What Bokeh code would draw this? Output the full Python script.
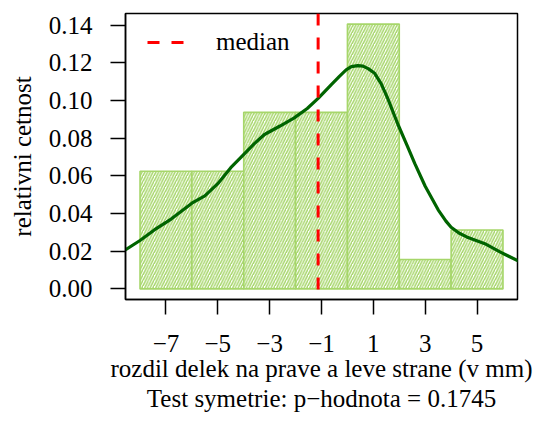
from bokeh.plotting import figure
from bokeh.models import FixedTicker, Range1d, Legend, LegendItem, Title
from bokeh.embed import file_html
from bokeh.resources import INLINE

# Histogram of differences (relative frequency per unit width)
bin_left = [-8, -6, -4, -2, 0, 2, 4]
bin_right = [-6, -4, -2, 0, 2, 4, 6]
rel_freq = [0.0625, 0.0625, 0.09375, 0.09375, 0.140625, 0.015625, 0.03125]

# Kernel density estimate of the same differences
dens_x = [-8.6, -8.0, -7.45, -6.8, -6.0, -5.5, -5.0, -4.5, -4.1, -3.6, -3.2,
          -2.6, -2.05, -1.55, -1.12, -0.63, -0.3, -0.05, 0.15, 0.4, 0.6, 0.8,
          1.05, 1.3, 1.55, 1.95, 2.3, 2.6, 3.0, 3.5, 3.8, 4.0, 4.3, 4.6, 5.3,
          5.9, 6.6]
dens_y = [0.0204, 0.0257, 0.0313, 0.0371, 0.0455, 0.0494, 0.0559, 0.0644,
          0.0700, 0.0770, 0.0820, 0.0865, 0.0908, 0.0958, 0.1013, 0.1084,
          0.1130, 0.1163, 0.1180, 0.1186, 0.1183, 0.1170, 0.1145, 0.1090,
          0.1013, 0.0873, 0.0762, 0.0665, 0.0545, 0.0420, 0.0360, 0.0327,
          0.0297, 0.0276, 0.0240, 0.0195, 0.0148]

median_value = -1.13

x_ticks = [-7, -5, -3, -1, 1, 3, 5]
x_tick_labels = ["\u22127", "\u22125", "\u22123", "\u22121", "1", "3", "5"]
y_ticks = [0.0, 0.02, 0.04, 0.06, 0.08, 0.10, 0.12, 0.14]
y_tick_labels = ["0.00", "0.02", "0.04", "0.06", "0.08", "0.10", "0.12", "0.14"]

FONT = "Liberation Serif"
FS = "25px"
BAR_GREEN = "#a6d66a"

x_lo, x_hi = -8.56, 6.56
y_lo, y_hi = -0.005625, 0.14625

p = figure(width=535, height=421, output_backend="svg", toolbar_location=None,
           x_range=Range1d(x_lo, x_hi), y_range=Range1d(y_lo, y_hi),
           min_border_left=125, min_border_right=18,
           min_border_top=13, min_border_bottom=122)

p.background_fill_color = "white"
p.border_fill_color = "white"
p.outline_line_color = "black"
p.outline_line_width = 1.5
p.xgrid.visible = False
p.ygrid.visible = False

p.quad(left=bin_left, right=bin_right, bottom=0, top=rel_freq,
       fill_color="white", line_color=BAR_GREEN, line_width=1.6,
       hatch_pattern="/", hatch_color=BAR_GREEN, hatch_scale=5.5,
       hatch_weight=1.5)

p.line(dens_x, dens_y, line_color="#006400", line_width=3.2)

med = p.line([median_value, median_value], [y_hi, y_lo], line_color="red",
             line_width=3, line_dash="12 12")

legend = Legend(items=[LegendItem(label="median", renderers=[med])],
                location=(22, 243), border_line_color=None,
                background_fill_alpha=0, padding=0, margin=0,
                glyph_width=37, glyph_height=26, label_height=26,
                label_standoff=32, label_text_font=FONT,
                label_text_font_size=FS, label_text_color="black")
p.add_layout(legend)

for ax in (p.xaxis[0], p.yaxis[0]):
    ax.major_label_text_font = FONT
    ax.major_label_text_font_size = FS
    ax.axis_label_text_font = FONT
    ax.axis_label_text_font_size = FS
    ax.axis_label_text_font_style = "normal"
    ax.axis_label_text_color = "black"
    ax.major_tick_in = 0
    ax.major_tick_out = 15
    ax.minor_tick_in = 0
    ax.minor_tick_out = 0
    ax.axis_line_width = 1.5
    ax.major_tick_line_width = 1.5
    ax.major_label_text_color = "black"

p.xaxis[0].ticker = FixedTicker(ticks=x_ticks)
p.xaxis[0].major_label_overrides = dict(zip(x_ticks, x_tick_labels))
p.xaxis[0].major_label_standoff = 20
p.xaxis[0].axis_label = "rozdil delek na prave a leve strane (v mm)"
p.xaxis[0].axis_label_standoff = 0

p.yaxis[0].ticker = FixedTicker(ticks=y_ticks)
p.yaxis[0].major_label_overrides = dict(zip(y_ticks, y_tick_labels))
p.yaxis[0].major_label_orientation = "horizontal"
p.yaxis[0].major_label_standoff = 18
p.yaxis[0].axis_label = "relativni cetnost"
p.yaxis[0].axis_label_standoff = 10

p.add_layout(Title(text="Test symetrie: p\u2212hodnota = 0.1745", align="center",
                   text_font=FONT, text_font_size=FS, text_font_style="normal",
                   text_color="black", standoff=-4), "below")

open("out.html", "w").write(file_html(p, INLINE))
